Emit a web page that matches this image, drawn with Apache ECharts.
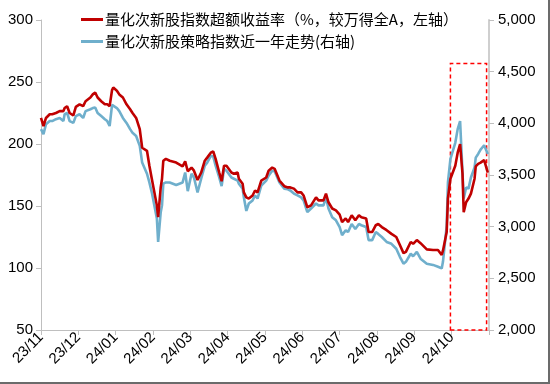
<!DOCTYPE html>
<html>
<head>
<meta charset="utf-8">
<script src="https://cdn.jsdelivr.net/npm/echarts@6/dist/echarts.min.js"></script>
<style>
html,body{margin:0;padding:0;background:#fff;}
#c{width:550px;height:384px;box-sizing:border-box;border-right:2px solid #6b6b6b;border-bottom:2px solid #6b6b6b;}
</style>
</head>
<body>
<div id="c"></div>
<script>
// ---------- data ----------
const monthLabels = ['23/11','23/12','24/01','24/02','24/03','24/04','24/05','24/06','24/07','24/08','24/09','24/10'];
const seriesNames = ['量化次新股指数超额收益率（%，较万得全A，左轴）','量化次新股策略指数近一年走势(右轴)'];
const dates = [
'2023-11-01','2023-11-03','2023-11-05','2023-11-08','2023-11-10','2023-11-13','2023-11-16','2023-11-17','2023-11-19','2023-11-20',
'2023-11-22','2023-11-24','2023-11-27','2023-11-29','2023-12-02','2023-12-05','2023-12-07','2023-12-11','2023-12-13','2023-12-15',
'2023-12-17','2023-12-20','2023-12-23','2023-12-25','2023-12-27','2023-12-29','2023-12-30','2024-01-02','2024-01-04','2024-01-07',
'2024-01-10','2024-01-13','2024-01-15','2024-01-18','2024-01-21','2024-01-23','2024-01-27','2024-01-29','2024-01-31','2024-02-04',
'2024-02-05','2024-02-07','2024-02-08','2024-02-09','2024-02-11','2024-02-14','2024-02-19','2024-02-24','2024-02-26','2024-02-28',
'2024-03-02','2024-03-04','2024-03-07','2024-03-10','2024-03-13','2024-03-15','2024-03-18','2024-03-20','2024-03-22','2024-03-25',
'2024-03-27','2024-03-29','2024-03-31','2024-04-04','2024-04-06','2024-04-09','2024-04-10','2024-04-13','2024-04-14','2024-04-16',
'2024-04-18','2024-04-21','2024-04-23','2024-04-25','2024-04-28','2024-05-02','2024-05-04','2024-05-07','2024-05-09','2024-05-13',
'2024-05-17','2024-05-20','2024-05-22','2024-05-25','2024-05-28','2024-05-31','2024-06-02','2024-06-05','2024-06-08','2024-06-12',
'2024-06-14','2024-06-18','2024-06-20','2024-06-22','2024-06-25','2024-06-28','2024-07-01','2024-07-03','2024-07-06','2024-07-08',
'2024-07-11','2024-07-14','2024-07-17','2024-07-19','2024-07-23','2024-07-25','2024-07-28','2024-07-31','2024-08-02','2024-08-05',
'2024-08-09','2024-08-13','2024-08-17','2024-08-20','2024-08-23','2024-08-25','2024-08-29','2024-08-31','2024-09-03','2024-09-06',
'2024-09-11','2024-09-16','2024-09-20','2024-09-23','2024-09-24','2024-09-27','2024-09-28','2024-09-30','2024-10-04','2024-10-06',
'2024-10-08','2024-10-10','2024-10-11','2024-10-13','2024-10-15','2024-10-17','2024-10-20','2024-10-21','2024-10-23','2024-10-25',
'2024-10-28','2024-10-29','2024-10-31'
];
const excessReturn = [
221,214.5,221,224,224,225,226.5,228,226.5,229,
230.5,225,223,230,232,230.5,234.5,237.5,240,241.5,
237.5,234.5,232,232,230.5,243.5,245.5,243,240,237.5,
232,228,225,221,212,197,194.5,182.5,172,150.5,
141,165,172,186.5,188,186.5,185,182,186,178,
181,178.5,171,177,186.5,189,193,194,188,177,
170,182.5,182.5,177,176,177,172,168,161,157,
156,158.5,162.5,161,170.5,173,178.5,181,180,170.5,
166,165,165,164,161,161,158.5,149,150.5,157,
154.5,154.5,160,153,148,146.5,143,137,140,137,
142.5,138.5,142.5,141,140,129,129,134.5,135.5,133,
130.5,127.5,125,118.5,112,113,121,119.5,122.5,120,
115,114.5,114.5,110.5,114,129,156,172,182.5,193,
200,176,145,153,156,160,172,182,184,185,
187,188.5,177
];
const strategyIndex = [
3944,3896,3992,4022,4022,4040,4052,4070,4022,4088,
4100,4022,4004,4070,4088,4052,4118,4136,4148,4154,
4100,4070,4040,4022,3974,4178,4196,4148,4118,4052,
4004,3944,3908,3878,3782,3620,3512,3428,3332,3080,
2852,3140,3206,3416,3428,3428,3404,3428,3524,3344,
3512,3476,3332,3464,3590,3620,3686,3680,3590,3476,
3392,3560,3542,3476,3464,3446,3416,3368,3284,3152,
3224,3254,3302,3272,3398,3446,3494,3542,3536,3428,
3368,3362,3350,3320,3302,3284,3254,3140,3176,3224,
3206,3206,3284,3176,3092,3062,2996,2918,2966,2948,
3026,2978,3026,3014,2996,2870,2870,2948,2930,2900,
2852,2834,2786,2708,2642,2660,2738,2714,2756,2690,
2642,2630,2612,2596,2660,3008,3428,3656,3812,3944,
4022,3524,3272,3380,3368,3476,3572,3668,3704,3746,
3788,3800,3704
];
// highlighted period (dashed box)
const boxStart = '2024-09-30';
const boxEnd = '2024-10-30';
const boxLow = 50;
const boxHigh = 265;

// ---------- helpers ----------
function monthPos(s){
  const [y,m,d] = s.split('-').map(Number);
  const idx = (y-2023)*12 + (m-11);
  const days = new Date(y, m, 0).getDate();
  return idx + (d-1)/days;
}
const redData = dates.map((d,i)=>[monthPos(d), excessReturn[i]]);
const blueData = dates.map((d,i)=>[monthPos(d), strategyIndex[i]]);

const axisFont = {fontFamily:'Liberation Sans, Arial, sans-serif', fontSize:15, color:'#000'};

const chart = echarts.init(document.getElementById('c'), null, {renderer:'canvas'});
chart.setOption({
  animation:false,
  grid:{left:41,right:59,top:20,bottom:52,containLabel:false},
  legend:{
    orient:'vertical', left:76, top:7, itemGap:7,
    icon:'rect', itemWidth:22, itemHeight:3, itemStyle:{borderWidth:0},
    textStyle:{fontFamily:'Noto Sans CJK SC, sans-serif', fontSize:15, color:'#000', padding:[0,0,0,-3]},
    data:seriesNames
  },
  xAxis:{
    type:'value', min:0, max:12, interval:1,
    axisLine:{show:true, lineStyle:{color:'#BFBFBF', width:1}},
    axisTick:{show:true, length:5, lineStyle:{color:'#BFBFBF'}},
    splitLine:{show:false},
    axisLabel:Object.assign({rotate:45, margin:5, formatter:v=>monthLabels[v] !== undefined ? monthLabels[v] : ''}, axisFont)
  },
  yAxis:[
    {
      type:'value', min:50, max:300, interval:50, position:'left',
      axisLine:{show:true, lineStyle:{color:'#BFBFBF', width:1}},
      axisTick:{show:true, length:5, lineStyle:{color:'#BFBFBF'}},
      splitLine:{show:false},
      axisLabel:Object.assign({margin:8}, axisFont)
    },
    {
      type:'value', min:2000, max:5000, interval:500, position:'right',
      axisLine:{show:true, lineStyle:{color:'#CFCFCF', width:2}},
      axisTick:{show:true, length:5, lineStyle:{color:'#BFBFBF'}},
      splitLine:{show:false},
      axisLabel:Object.assign({margin:9, formatter:v=>v.toLocaleString('en-US')}, axisFont)
    }
  ],
  series:[
    {
      name:seriesNames[0], type:'line', yAxisIndex:0, data:redData,
      showSymbol:false, symbol:'none', z:3,
      lineStyle:{color:'#C00000', width:2.6}, itemStyle:{color:'#C00000'},
      markArea:{
        silent:true,
        itemStyle:{color:'rgba(0,0,0,0)', borderColor:'#FF0000', borderWidth:1.5, borderType:[4,3]},
        label:{show:false},
        data:[[{xAxis:monthPos(boxStart), yAxis:boxLow},{xAxis:monthPos(boxEnd), yAxis:boxHigh}]]
      }
    },
    {
      name:seriesNames[1], type:'line', yAxisIndex:1, data:blueData,
      showSymbol:false, symbol:'none', z:2,
      lineStyle:{color:'#6FAFCC', width:2.6}, itemStyle:{color:'#6FAFCC'}
    }
  ]
});
</script>
</body>
</html>
